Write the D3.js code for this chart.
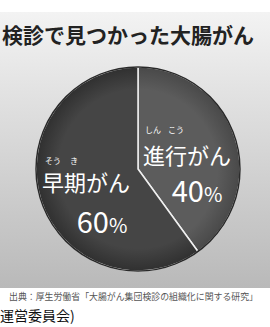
<!DOCTYPE html>
<html>
<head>
<meta charset="utf-8">
<script src="https://cdn.jsdelivr.net/npm/d3@7"></script>
<style>
  body { margin: 0; background: #fff; }
  svg { display: block; }
  text { font-family: "Noto Sans CJK JP", "Noto Sans", sans-serif; }
</style>
</head>
<body>
<div id="chart"></div>
<script>
// chart data
var labels = ["進行がん", "早期がん"];
var values = [40, 60];
var rubies = [["しん", "こう"], ["そう", "き"]];
var title = "検診で見つかった大腸がん";
var source = "出典：厚生労働省「大腸がん集団検診の組織化に関する研究」";
var footer = "運営委員会)";

var svgWidth = 270;
var svgHeight = 327;

var svg = d3
  .select("#chart")
  .append("svg")
  .attr("width", svgWidth)
  .attr("height", svgHeight);

var defs = svg.append("defs");

// background gradient panel
var bg = defs
  .append("linearGradient")
  .attr("id", "bg")
  .attr("x1", 0).attr("y1", 0)
  .attr("x2", 0).attr("y2", 1);
bg.append("stop").attr("offset", "0%").attr("stop-color", "#f3f3f3");
bg.append("stop").attr("offset", "100%").attr("stop-color", "#b9b9b9");

svg.append("rect")
  .attr("x", 0)
  .attr("y", 12)
  .attr("width", svgWidth)
  .attr("height", 276)
  .attr("fill", "url(#bg)");

// slice gradients
var sliceColors = [["#5c5c5c", "#494949"], ["#454545", "#303030"]];
sliceColors.forEach(function (c, i) {
  var g = defs
    .append("radialGradient")
    .attr("id", "slice" + i)
    .attr("gradientUnits", "userSpaceOnUse")
    .attr("cx", 0).attr("cy", 0).attr("r", 102);
  g.append("stop").attr("offset", "78%").attr("stop-color", c[0]);
  g.append("stop").attr("offset", "100%").attr("stop-color", c[1]);
});

// title
svg.append("text")
  .attr("x", 128)
  .attr("y", 43)
  .attr("text-anchor", "middle")
  .attr("font-size", 21)
  .attr("font-weight", "bold")
  .attr("fill", "#222")
  .text(title);

var radius = 102;
var pieGroup = svg
  .append("g")
  .attr("transform", "translate(138, 169)");

var pie = d3.pie().sort(null).value((d) => d);
var arc = d3.arc().innerRadius(0).outerRadius(radius);
var arcs = pie(values);

pieGroup
  .selectAll("path")
  .data(arcs)
  .enter()
  .append("path")
  .attr("d", arc)
  .attr("fill", (d, i) => "url(#slice" + i + ")")
  .attr("stroke", "#f0f0f0")
  .attr("stroke-width", 1.5)
  .attr("stroke-linejoin", "round");

// outer rim without the white stroke
pieGroup
  .append("circle")
  .attr("r", radius)
  .attr("fill", "none")
  .attr("stroke", "#2a2a2a")
  .attr("stroke-width", 1.5);

// label layout (offsets from pie center)
var labelPos = [
  { x: 49, y: -5, px: 59, py: 33 },
  { x: -52, y: 22, px: -36, py: 64 },
];
var rubyPos = [
  [{ x: 15, y: -36 }, { x: 38, y: -36 }],
  [{ x: -85, y: -5 }, { x: -64, y: -5 }],
];

var labelGroup = pieGroup.append("g").attr("fill", "#fff");

labelGroup
  .selectAll("text.name")
  .data(labels)
  .enter()
  .append("text")
  .attr("class", "name")
  .attr("x", (d, i) => labelPos[i].x)
  .attr("y", (d, i) => labelPos[i].y)
  .attr("text-anchor", "middle")
  .attr("font-size", 22)
  .text((d) => d);

var pct = labelGroup
  .selectAll("text.pct")
  .data(values)
  .enter()
  .append("text")
  .attr("class", "pct")
  .attr("x", (d, i) => labelPos[i].px)
  .attr("y", (d, i) => labelPos[i].py)
  .attr("text-anchor", "middle")
  .attr("font-family", "Roboto, sans-serif");
pct.append("tspan").attr("font-size", 29).text((d) => d);
pct.append("tspan").attr("font-size", 20).text("%");

rubies.forEach(function (r, i) {
  r.forEach(function (t, j) {
    labelGroup
      .append("text")
      .attr("x", rubyPos[i][j].x)
      .attr("y", rubyPos[i][j].y)
      .attr("text-anchor", "middle")
      .attr("font-size", 8)
      .text(t);
  });
});

// source note
svg.append("text")
  .attr("x", 9)
  .attr("y", 300)
  .attr("font-size", 9)
  .attr("textLength", 249)
  .attr("lengthAdjust", "spacingAndGlyphs")
  .attr("fill", "#555")
  .text(source);

svg.append("text")
  .attr("x", 0)
  .attr("y", 321)
  .attr("font-size", 14)
  .attr("fill", "#111")
  .text(footer);
</script>
</body>
</html>
